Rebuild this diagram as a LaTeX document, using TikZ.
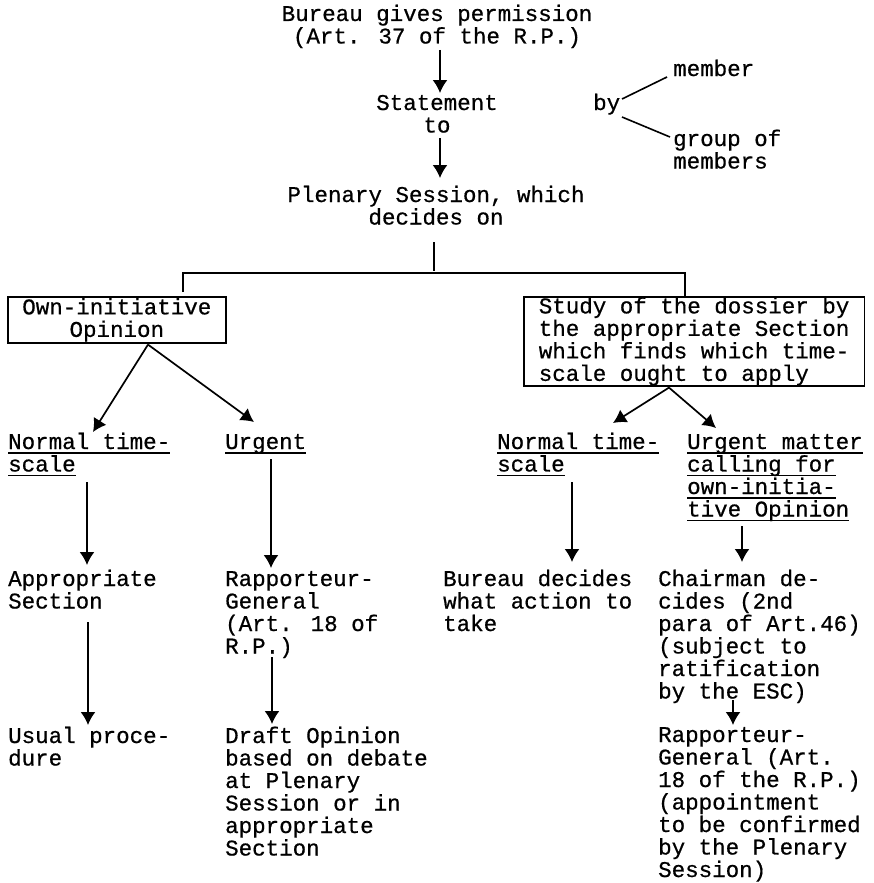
\documentclass[tikz,border=0pt]{standalone}
\usepackage{fontspec}
\usetikzlibrary{arrows.meta,calc}
\newfontfamily\tw[FakeBold=0.6]{Liberation Mono}
\newcommand\ulx[1]{\leavevmode\setbox0\hbox{#1}\rlap{\rule[-4.5pt]{\wd0}{1.4pt}}\box0}
\begin{document}
\begin{tikzpicture}[x=1pt,y=-1pt,
  txt/.style={inner sep=0pt, font=\tw\fontsize{22.5}{22.5}\selectfont},
  box/.style={txt, draw, line width=1.6pt},
  arr/.style={line width=1.7pt, -{Latex[length=13pt,width=15pt]}},
  ln/.style={line width=1.6pt}]
\useasboundingbox (0,0) rectangle (873,883);
% top
\node[txt, align=center, anchor=base] (bureau) at (437,43.5) {Bureau gives permission\\(Art. 37 of the R.P.)};
\node[txt, align=center, anchor=base] (stmt) at (437,132.5) {Statement\\to};
\node[txt, anchor=base west] (by) at (593,110) {by};
\node[txt, anchor=base west] (mem) at (673,76) {member};
\node[txt, align=left, anchor=base west] (grp) at (673,168.5) {group of\\members};
\node[txt, align=center, anchor=base] (plen) at (436,224.5) {Plenary Session, which\\decides on};
% boxes
\node[box, align=center, anchor=north west, inner xsep=14.5pt, inner ysep=0pt, minimum height=46pt] (own) at (7,296) {Own-initiative\\Opinion};
\node[box, align=left, anchor=north west, inner xsep=15pt, inner ysep=0pt, minimum height=89pt] (study) at (523,296) {Study of the dossier by\\the appropriate Section\\which finds which time-\\scale ought to apply};
% second level
\node[txt, align=left, anchor=base west] (nts1) at (8,471.5) {\ulx{Normal time-}\\\ulx{scale}};
\node[txt, align=left, anchor=base west] (urg1) at (225,449) {\ulx{Urgent}};
\node[txt, align=left, anchor=base west] (nts2) at (497,471.5) {\ulx{Normal time-}\\\ulx{scale}};
\node[txt, align=left, anchor=base west] (urg2) at (687,516.5) {\ulx{Urgent matter}\\\ulx{calling for}\\\ulx{own-initia-}\\\ulx{tive Opinion}};
% third level
\node[txt, align=left, anchor=base west] (app) at (8,608.5) {Appropriate\\Section};
\node[txt, align=left, anchor=base west] (rap1) at (225,653.5) {Rapporteur-\\General\\(Art. 18 of\\R.P.)};
\node[txt, align=left, anchor=base west] (bdec) at (443,631) {Bureau decides\\what action to\\take};
\node[txt, align=left, anchor=base west] (chair) at (658,698.5) {Chairman de-\\cides (2nd\\para of Art.46)\\(subject to\\ratification\\by the ESC)};
% fourth level
\node[txt, align=left, anchor=base west] (usual) at (8,765.5) {Usual proce-\\dure};
\node[txt, align=left, anchor=base west] (draft) at (225,855.5) {Draft Opinion\\based on debate\\at Plenary\\Session or in\\appropriate\\Section};
\node[txt, align=left, anchor=base west] (rap2) at (658,877) {Rapporteur-\\General (Art.\\18 of the R.P.)\\(appointment\\to be confirmed\\by the Plenary\\Session)};
% connectors
\draw[arr] ($(bureau.base)+(3,6.5)$) -- ($(stmt.base)+(3,-39.5)$);
\draw[arr] ($(stmt.base)+(3,5.5)$) -- ($(plen.base)+(4,-46.5)$);
\draw[ln] ($(by.base west)+(29,-11)$) -- ($(mem.base west)+(-6,1)$);
\draw[ln] ($(by.base west)+(29,7)$) -- ($(grp.base west)+(-3,-31.5)$);
\coordinate (fork) at ($(plen.base)+(-2,17.5)$);
\draw[ln] (fork) -- ++(0,29);
\draw[ln] ($(own.north west)+(176,-4)$) |- ($(study.north west)+(162,-23)$) -- ($(study.north west)+(162,0)$);
\draw[arr] ($(own.south west)+(141,1)$) -- ($(nts1.base west)+(85,-39.5)$);
\draw[arr] ($(own.south west)+(141,1)$) -- ($(urg1.base west)+(29,-27)$);
\draw[arr] ($(study.south west)+(146,1)$) -- ($(nts2.base west)+(116,-48.5)$);
\draw[arr] ($(study.south west)+(146,1)$) -- ($(urg2.base west)+(29,-88.5)$);
\draw[arr] ($(nts1.base west)+(79,10.5)$) -- ($(app.base west)+(79,-43.5)$);
\draw[arr] ($(urg1.base west)+(46,10)$) -- ($(rap1.base west)+(46,-85.5)$);
\draw[arr] ($(app.base west)+(80,13.5)$) -- ($(usual.base west)+(80,-40.5)$);
\draw[arr] ($(rap1.base west)+(47,3.5)$) -- ($(draft.base west)+(47,-131.5)$);
\draw[arr] ($(nts2.base west)+(75,10.5)$) -- ($(bdec.base west)+(129,-69)$);
\draw[arr] ($(urg2.base west)+(55,9.5)$) -- ($(chair.base west)+(84,-136.5)$);
\draw[arr] ($(chair.base west)+(75,1.5)$) -- ($(rap2.base west)+(75,-152)$);
\end{tikzpicture}
\end{document}
